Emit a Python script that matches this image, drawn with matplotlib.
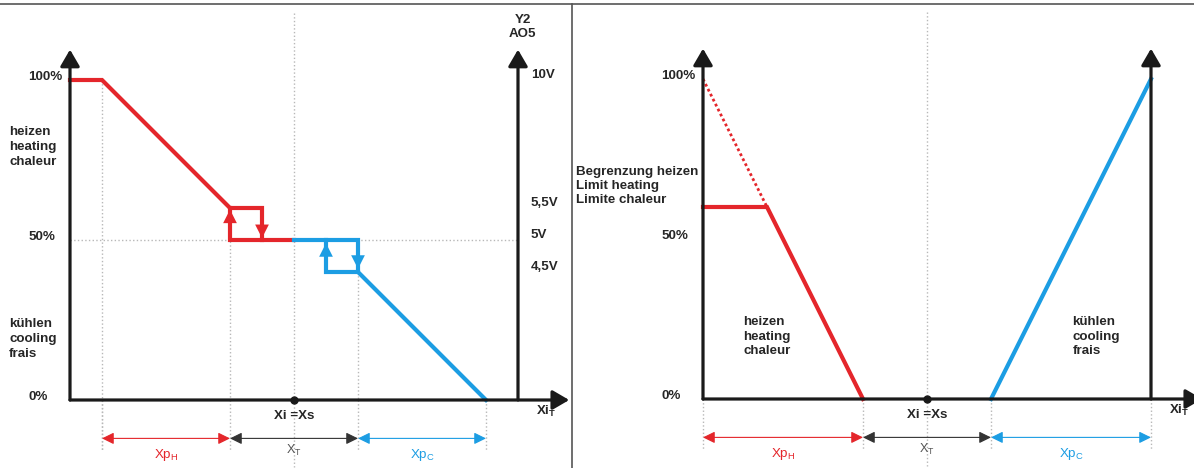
import matplotlib.pyplot as plt
from matplotlib.lines import Line2D

plt.rcParams['font.family'] = ['Liberation Sans', 'DejaVu Sans']

# colours
red = '#e4262b'
blue = '#1c9de3'
black = '#1a1a1a'
grey = '#b8b8b8'
txt = '#262626'
fs = 9.6

# left panel: hysteresis with 2 switching points
heat_x = [0, 1, 5, 6, 6]
heat_y = [100, 100, 60, 60, 50]
heat_back_x = [5, 5, 7]
heat_back_y = [60, 50, 50]
cool_x = [7, 9, 9, 13]
cool_y = [50, 50, 40, 0]
cool_back_x = [8, 8, 9]
cool_back_y = [50, 40, 40]
left_edges = [1, 5, 9, 13]
volt_labels = ['10V', '5,5V', '5V', '4,5V']
volt_levels = [100, 60, 50, 40]

# right panel: heating limit
limit_x = [0, 2, 5]
limit_y = [60, 60, 0]
nolimit_x = [0, 2]
nolimit_y = [100, 60]
cool2_x = [9, 14]
cool2_y = [0, 100]
right_edges = [0, 5, 9, 14]

setpoint = 7
pct_labels = ['100%', '50%', '0%']
pct_levels = [100, 50, 0]

fig = plt.figure(figsize=(11.94, 4.68), dpi=100)
# 32 px per x unit, 3.2 px per percent
ax1 = fig.add_axes([0, 0, 572 / 1194, 1])
ax1.set_xlim(-70 / 32, 502 / 32)
ax1.set_ylim(-68 / 3.2, 400 / 3.2)
ax2 = fig.add_axes([572 / 1194, 0, 622 / 1194, 1])
ax2.set_xlim(-131 / 32, 491 / 32)
ax2.set_ylim(-69 / 3.2, 399 / 3.2)
for ax in (ax1, ax2):
    ax.axis('off')

big_head = dict(arrowstyle='-|>,head_length=0.72,head_width=0.42',
                mutation_scale=14, lw=2.3, color=black,
                shrinkA=0, shrinkB=0)


def axis_arrow(ax, start, end):
    ax.annotate('', xy=end, xytext=start, arrowprops=big_head,
                annotation_clip=False)


def small_head(ax, x, y0, y1, color):
    ax.annotate('', xy=(x, y1), xytext=(x, y0),
                arrowprops=dict(arrowstyle='-|>,head_length=0.75,'
                                'head_width=0.38', mutation_scale=13,
                                lw=0, color=color, shrinkA=0, shrinkB=0))


def dim_arrow(ax, x0, x1, color):
    ax.annotate('', xy=(x1, -12), xytext=(x0, -12),
                arrowprops=dict(arrowstyle='<|-|>,head_length=0.65,'
                                'head_width=0.32', mutation_scale=11,
                                lw=0.8, color=color,
                                shrinkA=0, shrinkB=0))


def common(ax, edges, pct_x):
    # dotted guides
    for x in edges:
        ax.plot([x, x], [0, -15.5], ls=':', color=grey, lw=1, zorder=0)
    ax.plot([setpoint, setpoint], [121, -21], ls=':', color=grey, lw=1,
            zorder=0)
    # axes
    axis_arrow(ax, (0, 0), (0, 109.5))
    axis_arrow(ax, (0, 0), (15.6, 0))
    axis_arrow(ax, (14, 0), (14, 109.5))
    ax.plot(setpoint, 0, 'o', color=black, ms=5, zorder=5)
    for lab, lev in zip(pct_labels, pct_levels):
        ax.text(pct_x, lev + 0.8, lab, fontsize=fs, fontweight='bold',
                color=txt, ha='left', va='center')
    ax.text(setpoint, -5, 'Xi =Xs', fontsize=fs, fontweight='bold',
            color=txt, ha='center', va='center')
    ax.text(14.55, -3.6, r'Xi$\mathregular{_T}$',
            fontsize=fs, fontweight='bold', color=txt, ha='left',
            va='center', clip_on=False)
    # dimension arrows
    dim_arrow(ax, edges[0], edges[1], red)
    dim_arrow(ax, edges[1], edges[2], '#333333')
    dim_arrow(ax, edges[2], edges[3], blue)
    ax.text((edges[0] + edges[1]) / 2, -17.2, r'Xp$\mathregular{_H}$',
            fontsize=fs, color=red, ha='center', va='center')
    ax.text(setpoint, -15.8, r'X$\mathregular{_T}$', fontsize=9,
            color='#555555', ha='center', va='center')
    ax.text((edges[2] + edges[3]) / 2, -17.2, r'Xp$\mathregular{_C}$',
            fontsize=fs, color=blue, ha='center', va='center')


# ---- left panel ----
ax1.plot([1, 1], [100, -15.5], ls=':', color=grey, lw=1, zorder=0)
ax1.plot([5, 5], [60, 0], ls=':', color=grey, lw=1, zorder=0)
ax1.plot([9, 9], [40, 0], ls=':', color=grey, lw=1, zorder=0)
ax1.plot([0, 14], [50, 50], ls=':', color=grey, lw=1, zorder=0)
common(ax1, left_edges, -1.31)

ax1.plot(heat_x, heat_y, color=red, lw=3, solid_joinstyle='miter')
ax1.plot(heat_back_x, heat_back_y, color=red, lw=3, solid_joinstyle='miter')
ax1.plot(cool_x, cool_y, color=blue, lw=3, solid_joinstyle='miter')
ax1.plot(cool_back_x, cool_back_y, color=blue, lw=3,
         solid_joinstyle='miter')
small_head(ax1, 5, 54, 59.5, red)
small_head(ax1, 6, 56, 50.6, red)
small_head(ax1, 8, 43.5, 49, blue)
small_head(ax1, 9, 46.5, 41, blue)

for lab, lev in zip(volt_labels, volt_levels):
    ax1.text(14.4, lev + 1.5, lab, fontsize=fs, fontweight='bold',
             color=txt, ha='left', va='center')
ax1.text(14.15, 116.6, 'Y2\nAO5', fontsize=fs, fontweight='bold',
         color=txt, ha='center', va='center', linespacing=1.15)
ax1.text(-1.9, 79, 'heizen\nheating\nchaleur', fontsize=fs,
         fontweight='bold', color=txt, ha='left', va='center',
         linespacing=1.32)
ax1.text(-1.9, 19, 'kühlen\ncooling\nfrais', fontsize=fs,
         fontweight='bold', color=txt, ha='left', va='center',
         linespacing=1.32)

# ---- right panel ----
common(ax2, right_edges, -1.3)
ax2.plot(nolimit_x, nolimit_y, color=red, lw=2, ls=(0, (1, 1)))
ax2.plot(limit_x, limit_y, color=red, lw=3, solid_joinstyle='miter')
ax2.plot(cool2_x, cool2_y, color=blue, lw=3)
ax2.text(-3.98, 66.5, 'Begrenzung heizen\nLimit heating\nLimite chaleur',
         fontsize=fs, fontweight='bold', color=txt, ha='left',
         va='center', linespacing=1.25)
ax2.text(1.25, 19.5, 'heizen\nheating\nchaleur', fontsize=fs,
         fontweight='bold', color=txt, ha='left', va='center',
         linespacing=1.28)
ax2.text(11.55, 19.5, 'kühlen\ncooling\nfrais', fontsize=fs,
         fontweight='bold', color=txt, ha='left', va='center',
         linespacing=1.28)

# frame lines
fig.add_artist(Line2D([0, 1], [1 - 4 / 468, 1 - 4 / 468], color='#555555',
                      lw=1.2))
fig.add_artist(Line2D([572 / 1194, 572 / 1194], [0, 1 - 4 / 468],
                      color='#555555', lw=1.2))

fig.savefig('out.png', dpi=100)
